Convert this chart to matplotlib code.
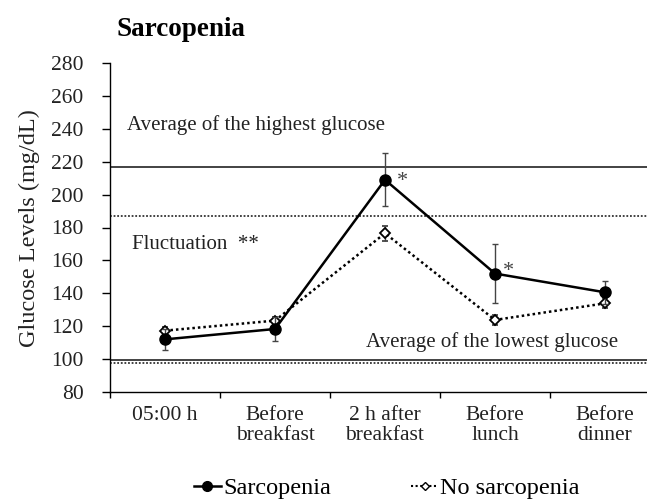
import matplotlib
matplotlib.use("Agg")
import matplotlib.pyplot as plt
from matplotlib.lines import Line2D

plt.rcParams['font.family'] = ['Liberation Serif', 'DejaVu Serif']

# data
categories = ["05:00 h", "Before\nbreakfast", "2 h after\nbreakfast", "Before\nlunch", "Before\ndinner"]
sarco = [112, 118.3, 209, 152, 140.6]
sarco_err = [6.5, 7, 16, 18, 7]
no_sarco = [117.3, 123.4, 176.5, 123.8, 133.9]
no_sarco_err = [2, 2, 4.5, 3, 3]

high_sarco, high_no = 217, 187
low_sarco, low_no = 99.6, 97.8

x = [i + 0.5 for i in range(len(categories))]

fig = plt.figure(figsize=(6.47, 5.01), dpi=100)
ax = fig.add_axes([110 / 647, 1 - 392 / 501, 550 / 647, 329 / 501])

# reference lines
ax.axhline(high_sarco, color='#222222', lw=1.2)
ax.axhline(high_no, color='#333333', lw=1.3, ls=(0, (1, 1)))
ax.axhline(low_sarco, color='#222222', lw=1.2)
ax.axhline(low_no, color='#333333', lw=1.3, ls=(0, (1, 1)))

ax.errorbar(x, no_sarco, yerr=no_sarco_err, color='black', lw=1.8, ls=(0, (1, 1.2)),
            marker='D', ms=5.5, mfc='white', mec='black', mew=1.3,
            ecolor='#444444', elinewidth=1, capsize=2.5, zorder=3)
ax.errorbar(x, sarco, yerr=sarco_err, color='black', lw=1.8,
            marker='o', ms=8, mfc='black', mec='black',
            ecolor='#444444', elinewidth=1, capsize=2.5, zorder=4)

# significance marks
ax.text(2.655, 208, "*", fontsize=16, color='#444444', ha='center', va='center')
ax.text(3.62, 153.5, "*", fontsize=16, color='#444444', ha='center', va='center')

ax.text(0.155, 242, "Average of the highest glucose", fontsize=15, color='#222222', va='center')
ax.text(0.2, 169.5, "Fluctuation  **", fontsize=15, color='#222222', va='center')
ax.text(2.327, 110.5, "Average of the lowest glucose", fontsize=15, color='#222222', va='center')

ax.set_xlim(0, 5)
ax.set_ylim(80, 280)
ax.set_yticks(range(80, 281, 20))
ax.set_xticks(range(0, 6))
ax.set_xticklabels([])
ax.set_xticks(x, minor=True)
ax.set_xticklabels(categories, minor=True, fontsize=15.5, color='#222222', linespacing=1.05)
ax.tick_params(axis='x', which='major', direction='out', length=4, width=1)
ax.tick_params(axis='x', which='minor', length=0, pad=10)
ax.tick_params(axis='y', direction='out', length=6, width=1, pad=13, labelsize=15.5, labelcolor='#222222')

for s in ['top', 'right']:
    ax.spines[s].set_visible(False)
for s in ['left', 'bottom']:
    ax.spines[s].set_linewidth(1)

fig.text(29 / 647, 1 - 228 / 501, "Glucose Levels (mg/dL)", rotation=90, fontsize=17.5,
         ha='center', va='center', color='#222222')
fig.text(117 / 647, 1 - 29 / 501, "Sarcopenia", fontsize=19.5, fontweight='bold',
         ha='left', va='center')

handles = [
    Line2D([], [], color='black', lw=1.8, marker='o', ms=7, mfc='black'),
    Line2D([], [], color='black', lw=1.5, ls=(0, (1, 1.2)), marker='D', ms=4.5, mfc='white', mec='black'),
]
fig.legend(handles, ["Sarcopenia", "No sarcopenia"], loc='center', bbox_to_anchor=(387 / 647, 1 - 488 / 501),
           ncol=2, frameon=False, fontsize=17.5, handlelength=1.1, handletextpad=0.1,
           columnspacing=3.3, borderpad=0)

fig.savefig("out.png", dpi=100)
